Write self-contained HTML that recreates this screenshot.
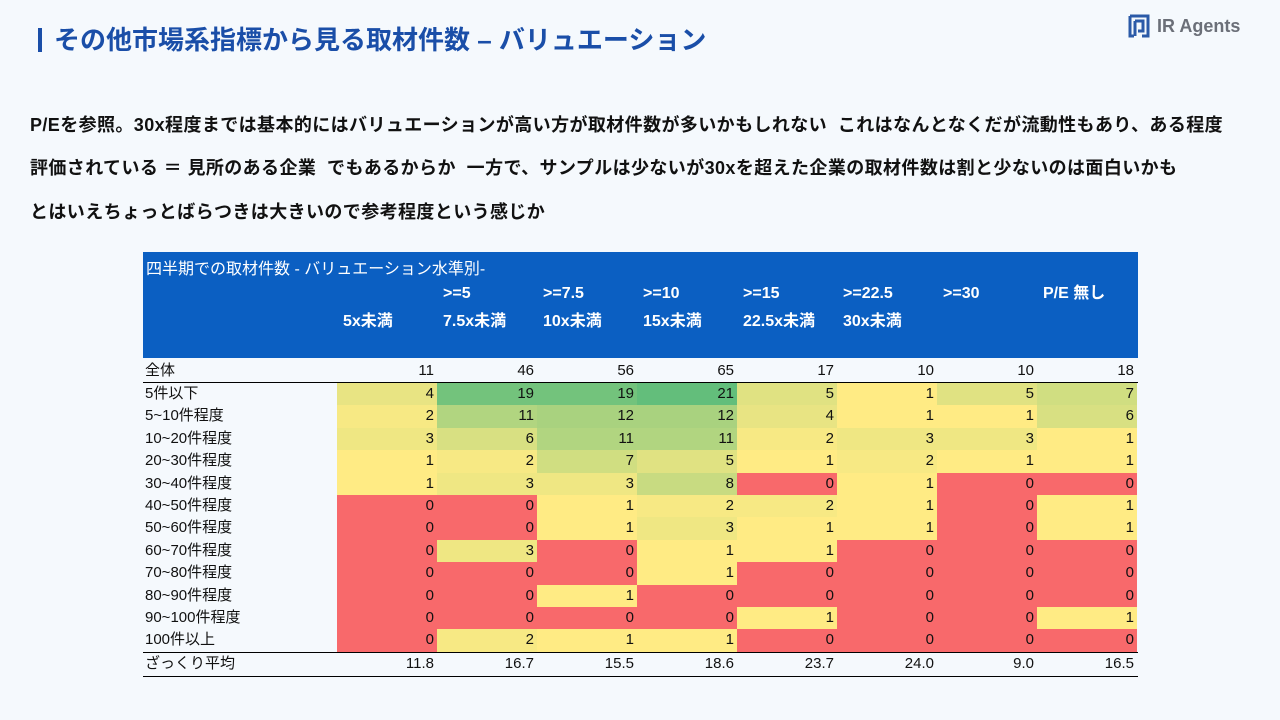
<!DOCTYPE html>
<html><head><meta charset="utf-8">
<style>
body{margin:0;width:1280px;height:720px;background:#f5f9fd;font-family:"Liberation Sans","Noto Sans CJK JP",sans-serif;position:relative;overflow:hidden;color:#111}
.title{position:absolute;left:38px;top:20px;font-size:26px;font-weight:bold;color:#1a4ea8}
.title .bar{display:inline-block;width:4px;height:24px;background:#1a4ea8;vertical-align:-3px;margin-right:12px}
.logo{position:absolute;left:1128px;top:14px;display:flex;align-items:center;gap:7px;font-size:18px;font-weight:bold;color:#6b6f78}
.desc{position:absolute;left:30px;font-size:18px;letter-spacing:0.4px;font-weight:bold;color:#111;white-space:nowrap}
#tbl{position:absolute;left:143px;top:252px;width:995px}
.hdr{position:absolute;left:0;top:0;width:995px;height:106px;background:#0b5fc2;color:#fff}
.cell{position:absolute;font-size:15px;box-sizing:border-box;text-align:right;padding-right:3px;line-height:22px}
.lab{position:absolute;font-size:15px;line-height:22px;left:2px}
</style></head><body>
<div class="title"><span class="bar"></span>その他市場系指標から見る取材件数 – バリュエーション</div>
<div class="logo"><svg width="22" height="24" viewBox="0 0 22 24"><path d="M2 2h18v20h-6M2 2v20h4M7 7h8v10H10M7 7v15" fill="none" stroke="#2b5aa8" stroke-width="3"/></svg><span>IR Agents</span></div>
<div class="desc" style="top:111px">P/Eを参照。30x程度までは基本的にはバリュエーションが高い方が取材件数が多いかもしれない&nbsp; これはなんとなくだが流動性もあり、ある程度</div>
<div class="desc" style="top:154px">評価されている ＝ 見所のある企業&nbsp; でもあるからか&nbsp; 一方で、サンプルは少ないが30xを超えた企業の取材件数は割と少ないのは面白いかも</div>
<div class="desc" style="top:198px">とはいえちょっとばらつきは大きいので参考程度という感じか</div>
<div id="tbl">
<div class="hdr">
<div style="position:absolute;left:3px;top:3px;font-size:16px">四半期での取材件数 - バリュエーション水準別-</div>
</div>
</div>
<script>
const cols1=["","&gt;=5","&gt;=7.5","&gt;=10","&gt;=15","&gt;=22.5","&gt;=30","P/E 無し"];
const cols2=["5x未満","7.5x未満","10x未満","15x未満","22.5x未満","30x未満","",""];
const rowLabels=["5件以下","5~10件程度","10~20件程度","20~30件程度","30~40件程度","40~50件程度","50~60件程度","60~70件程度","70~80件程度","80~90件程度","90~100件程度","100件以上"];
const totals=[11,46,56,65,17,10,10,18];
const values=[
[4,19,19,21,5,1,5,7],
[2,11,12,12,4,1,1,6],
[3,6,11,11,2,3,3,1],
[1,2,7,5,1,2,1,1],
[1,3,3,8,0,1,0,0],
[0,0,1,2,2,1,0,1],
[0,0,1,3,1,1,0,1],
[0,3,0,1,1,0,0,0],
[0,0,0,1,0,0,0,0],
[0,0,1,0,0,0,0,0],
[0,0,0,0,1,0,0,1],
[0,2,1,1,0,0,0,0]];
const averages=["11.8","16.7","15.5","18.6","23.7","24.0","9.0","16.5"];
const T=document.getElementById('tbl'),H=T.querySelector('.hdr');
const LW=194,CW=100,R0=131,RH=22.4;
function mix(a,b,t){return 'rgb('+a.map((v,i)=>Math.round(v+(b[i]-v)*t)).join(',')+')';}
function color(v){const red=[248,105,107],yel=[255,235,132],grn=[99,190,123];
 if(v<=0)return mix(red,red,0); if(v<=1)return mix(red,yel,v); return mix(yel,grn,Math.min(1,(v-1)/20));}
cols1.forEach((c,i)=>{
 const d=document.createElement('div');
 
 
 d.style.cssText=`position:absolute;left:${LW+i*CW+6}px;top:28px;font-size:16px;font-weight:bold;line-height:28px`;
 d.innerHTML=(c||'&nbsp;')+'<br>'+(cols2[i]||'&nbsp;');H.appendChild(d);
});
function addRow(label,vals,y,name,colorize){
 const l=document.createElement('div');l.className='lab';l.style.top=y+'px';l.textContent=label;
 
 
 T.appendChild(l);
 vals.forEach((v,i)=>{const c=document.createElement('div');c.className='cell';
  c.style.cssText+=`left:${LW+i*CW}px;top:${y}px;width:${CW}px;height:${RH+0.6}px;`+(colorize?`background:${color(v)}`:'');
  c.textContent=v;
  
  
  T.appendChild(c);});
}
addRow("全体",totals,108,'total-row',false);
rowLabels.forEach((r,j)=>addRow(r,values[j],R0+j*RH,'heatmap-row',true));
addRow("ざっくり平均",averages,R0+12*RH+1,'average-row',false);
[129.5,R0+12*RH,R0+13*RH+1.5].forEach(y=>{const l=document.createElement('div');
 
 
 l.style.cssText=`position:absolute;left:0;width:995px;top:${y}px;height:1.5px;background:#000`;T.appendChild(l);});
</script>
</body></html>
